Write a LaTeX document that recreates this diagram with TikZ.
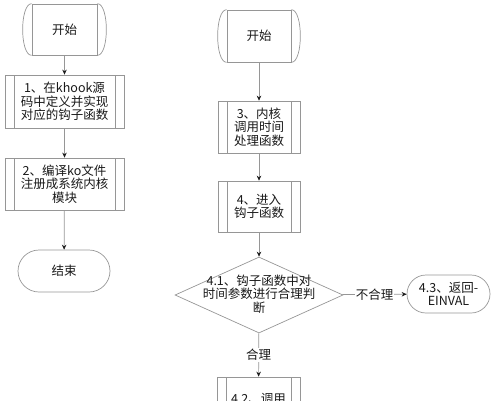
\documentclass[tikz,border=0pt]{standalone}
\usepackage{fontspec}
\usepackage{xcolor}
\usepackage{tikz}
\usetikzlibrary{arrows.meta,shapes.geometric}
\newfontfamily\cjk{Noto Sans CJK SC}
\definecolor{linegray}{RGB}{150,150,150}
\definecolor{tipgray}{RGB}{30,30,30}
\definecolor{txt}{RGB}{25,25,25}

\tikzset{
  base/.style={draw=linegray, line width=0.7pt, font=\cjk\fontsize{12.5}{13.5}\selectfont,
    align=center, inner sep=0pt, text=txt},
  startbox/.style={base, rectangle, minimum width=64pt, minimum height=52pt},
  procbox/.style={base, rectangle, minimum height=52pt, path picture={
      \draw[linegray, line width=0.7pt] ([xshift=9pt]path picture bounding box.north west) -- ([xshift=9pt]path picture bounding box.south west);
      \draw[linegray, line width=0.7pt] ([xshift=-9pt]path picture bounding box.north east) -- ([xshift=-9pt]path picture bounding box.south east);}},
  endbox/.style={base, rectangle, rounded corners=19pt},
  decision/.style={base, diamond, minimum width=168pt, minimum height=76pt},
  conn/.style={draw=linegray, line width=0.7pt, -{Stealth[length=5pt,width=4.5pt,color=tipgray]}},
  lbl/.style={font=\cjk\fontsize{12.5}{13.5}\selectfont, text=txt, fill=white, inner sep=1pt}
}

\begin{document}
\begin{tikzpicture}[x=1pt,y=-1pt]
\useasboundingbox (0,0) rectangle (503,400);
\clip (0,0) rectangle (503,400);

  \node[startbox, minimum width=65pt, minimum height=51pt] (S1) at (64.5,29.5) {开始};
  \node[procbox, minimum width=119pt, minimum height=53pt] (P1) at (64.5,101.5) {1、在khook源\\码中定义并实现\\对应的钩子函数};
  \node[procbox, minimum width=119pt] (P2) at (64.5,184) {2、编译ko文件\\注册成系统内核\\模块};
  \node[endbox, minimum width=92pt, minimum height=42pt, rounded corners=21pt] (E1) at (64,271) {结束};

  \node[startbox] (S2) at (259,36) {开始};
  \node[procbox, minimum width=82pt] (P3) at (259,127) {3、内核\\调用时间\\处理函数};
  \node[procbox, minimum width=82pt, minimum height=51pt] (P4) at (259,206.5) {4、进入\\钩子函数};
  \node[decision] (D) at (259,295) {};
  \node[base, draw=none] (Dt) at (259,294) {4.1、钩子函数中对\\时间参数进行合理判\\断};
  \node[endbox, minimum width=83pt, minimum height=38pt] (R) at (448.5,294) {4.3、返回-\\EINVAL};
  \node[procbox, minimum width=83pt, minimum height=44pt] (P5) at (258.5,399) {4.2、调用};

  \foreach \n in {S1,S2}{
    \draw[linegray, line width=0.7pt] (\n.north west) .. controls +(-12,0) and +(-12,0) .. (\n.south west);
    \draw[linegray, line width=0.7pt] (\n.north east) .. controls +(12,0) and +(12,0) .. (\n.south east);
  }

  \path[conn]
        (S1) edge (P1)
        (P1) edge (P2)
        (P2) edge (E1)
        (S2) edge (P3)
        (P3) edge (P4)
        (P4) edge (D)
        (D)  edge node[lbl] {合理} (P5)
        (D)  edge node[lbl] {不合理} (R);
\end{tikzpicture}
\end{document}
